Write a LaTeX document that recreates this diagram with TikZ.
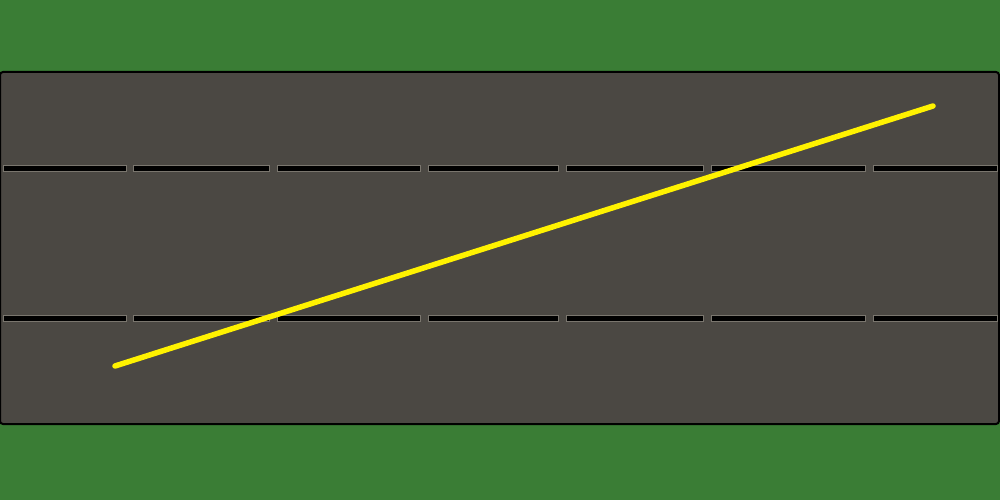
\documentclass[tikz,border=0pt]{standalone}
\definecolor{grass}{HTML}{3A7D35}
\definecolor{asphalt}{HTML}{4B4843}
\definecolor{dashedge}{HTML}{7A766E}
\begin{document}
\begin{tikzpicture}[x=1pt,y=-1pt,
  lanedash/.style={fill=black,draw=dashedge,line width=0.4pt},
  track/.style={draw=yellow,line width=5.5pt,line cap=round}]
\useasboundingbox (0,0) rectangle (1000,500);
\fill[grass] (0,0) rectangle (1000,500);
\draw[fill=asphalt,draw=black,line width=2pt,rounded corners=3pt] (0,72) rectangle (999,424);
\foreach \y in {168.5,318} {
  \foreach \a/\b in {3/126,133/269,277/420,428/558,566/703,711/865,873/997} {
    \draw[lanedash] (\a,\y-3) rectangle (\b,\y+3);
  }
}
\coordinate (start) at (115,366);
\coordinate (finish) at (933,106);
\draw[track] (start) -- (finish);
\end{tikzpicture}
\end{document}
